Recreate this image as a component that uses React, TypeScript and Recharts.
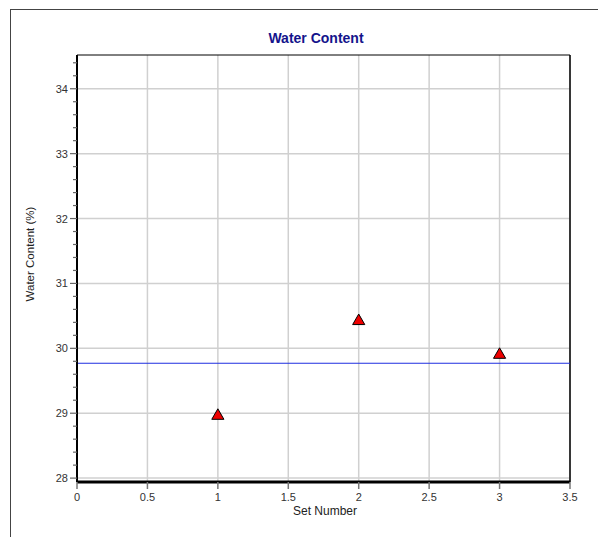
import {
  CartesianGrid,
  ReferenceLine,
  Scatter,
  ScatterChart,
  XAxis,
  YAxis,
} from "recharts";

// Water content per test set
const setNumbers = [1, 2, 3];
const waterContent = [28.96, 30.42, 29.9];
const meanWaterContent = 29.77;

const xTicks = [0, 0.5, 1, 1.5, 2, 2.5, 3, 3.5];
const yMajorTicks = [28, 29, 30, 31, 32, 33, 34];
const yAllTicks = [
  28, 28.2, 28.4, 28.6, 28.8, 29, 29.2, 29.4, 29.6, 29.8, 30, 30.2, 30.4,
  30.6, 30.8, 31, 31.2, 31.4, 31.6, 31.8, 32, 32.2, 32.4, 32.6, 32.8, 33,
  33.2, 33.4, 33.6, 33.8, 34, 34.2, 34.4,
];
const yDomain = [27.94, 34.52];

const points = setNumbers.map((s, i) => ({ set: s, wc: waterContent[i] }));

const FONT = "'Liberation Sans', Arial, sans-serif";
const TICK_TEXT = "#333";

// y ticks: long mark + label on integers, short mark on the 0.2 steps
function YTick(props: any) {
  const { x, y, payload } = props;
  const v = payload.value as number;
  const major = Math.abs(v - Math.round(v)) < 1e-6;
  return (
    <g>
      <line
        x1={x - (major ? 7 : 4)}
        x2={x}
        y1={y}
        y2={y}
        stroke="#666"
        strokeWidth={1.2}
      />
      {major && (
        <text
          x={x - 9}
          y={y}
          dy={4}
          textAnchor="end"
          fontSize={11}
          fontFamily={FONT}
          fill={TICK_TEXT}
        >
          {v}
        </text>
      )}
    </g>
  );
}

function XTick(props: any) {
  const { x, y, payload } = props;
  return (
    <g>
      <line x1={x} x2={x} y1={y} y2={y + 7} stroke="#777" strokeWidth={1.5} />
      <text
        x={x}
        y={y + 19}
        textAnchor="middle"
        fontSize={11}
        fontFamily={FONT}
        fill={TICK_TEXT}
      >
        {payload.value}
      </text>
    </g>
  );
}

export default function App() {
  return (
    <div
      style={{
        position: "fixed",
        left: 0,
        top: 0,
        width: 598,
        height: 537,
        background: "#fff",
        fontFamily: FONT,
      }}
    >
      {/* outer frame, only top and left edges show in the crop */}
      <div
        style={{
          position: "absolute",
          left: 10,
          top: 9,
          width: 600,
          height: 540,
          borderTop: "1px solid #444",
          borderLeft: "1px solid #444",
        }}
      />
      <ScatterChart
        width={598}
        height={537}
        margin={{ top: 55, right: 28, bottom: 25, left: 37 }}
      >
        <CartesianGrid
          stroke="#d0d0d0"
          strokeWidth={1.5}
          horizontalValues={yMajorTicks}
          verticalValues={xTicks}
        />
        <XAxis
          type="number"
          dataKey="set"
          domain={[0, 3.5]}
          ticks={xTicks}
          height={30}
          tickLine={false}
          tickSize={0}
          tickMargin={0}
          axisLine={{ stroke: "#000", strokeWidth: 3 }}
          tick={<XTick />}
          interval={0}
        />
        <YAxis
          type="number"
          dataKey="wc"
          domain={yDomain}
          ticks={yAllTicks}
          width={40}
          tickLine={false}
          tickSize={0}
          tickMargin={0}
          axisLine={{ stroke: "#000", strokeWidth: 2 }}
          tick={<YTick />}
          interval={0}
          allowDataOverflow
        />
        <ReferenceLine x={3.5} stroke="#000" strokeWidth={1.5} />
        <ReferenceLine y={yDomain[1]} stroke="#000" strokeWidth={1} />
        <ReferenceLine y={meanWaterContent} stroke="#1e2ee0" strokeWidth={1.2} />
        <Scatter
          data={points}
          shape="triangle"
          fill="#ee0000"
          stroke="#000"
          strokeWidth={1}
          size={34}
          isAnimationActive={false}
        />
      </ScatterChart>
      <div
        style={{
          position: "absolute",
          left: 216,
          width: 200,
          top: 30,
          textAlign: "center",
          fontSize: 14,
          fontWeight: "bold",
          color: "#14148c",
        }}
      >
        Water Content
      </div>
      <div
        style={{
          position: "absolute",
          left: 225,
          width: 200,
          top: 504,
          textAlign: "center",
          fontSize: 12,
          color: "#222",
        }}
      >
        Set Number
      </div>
      <div
        style={{
          position: "absolute",
          left: 30 - 100,
          width: 200,
          top: 256 - 8,
          textAlign: "center",
          fontSize: 11.5,
          color: "#222",
          transform: "rotate(-90deg)",
        }}
      >
        Water Content (%)
      </div>
    </div>
  );
}
